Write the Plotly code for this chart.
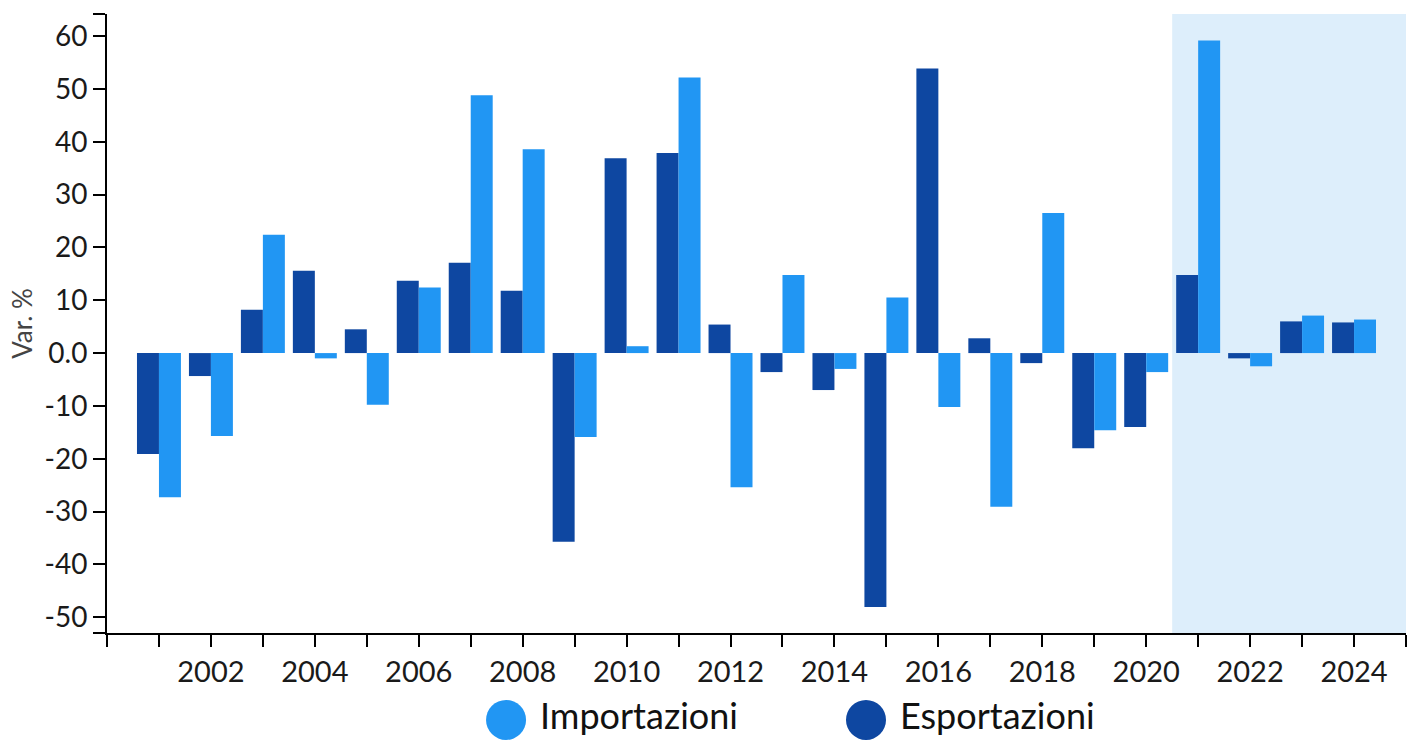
import plotly.graph_objects as go

years = list(range(2001, 2025))
esportazioni = [-19.1, -4.35, 8.2, 15.6, 4.5, 13.7, 17.1, 11.8, -35.7, 36.9, 37.9, 5.4,
                -3.6, -7.0, -48.1, 53.9, 2.8, -1.9, -18.0, -14.0, 14.8, -1.0, 6.0, 5.8]
importazioni = [-27.3, -15.7, 22.4, -1.0, -9.8, 12.4, 48.8, 38.6, -15.9, 1.3, 52.2, -25.4,
                14.8, -3.0, 10.5, -10.2, -29.1, 26.5, -14.6, -3.6, 59.2, -2.5, 7.1, 6.35]

x_tickvals = list(range(2000, 2026))
x_ticktext = [str(y) if (y % 2 == 0 and 2002 <= y <= 2024) else "" for y in x_tickvals]

y_min, y_max = -53, 64.2
y_tickvals = [y_min, -50, -40, -30, -20, -10, 0, 10, 20, 30, 40, 50, 60, y_max]
y_ticktext = ["", "-50", "-40", "-30", "-20", "-10", "0.0", "10", "20", "30", "40", "50", "60", ""]

forecast_start = 2020.5
forecast_end = 2025

DARK = "#0E47A1"
LIGHT = "#2196F3"
FONT = "Lato"

fig = go.Figure()
fig.add_trace(go.Bar(x=years, y=esportazioni, name="Esportazioni", marker_color=DARK,
                     marker_line_width=0, showlegend=False))
fig.add_trace(go.Bar(x=years, y=importazioni, name="Importazioni", marker_color=LIGHT,
                     marker_line_width=0, showlegend=False))

fig.add_shape(type="rect", xref="x", yref="paper", x0=forecast_start, x1=forecast_end,
              y0=0, y1=1, fillcolor="#DDEEFB", line_width=0, layer="below")

# custom legend (circles + labels)
legend_y = -0.1405
legend_items = [("Importazioni", LIGHT, 0.3072, 0.3318), ("Esportazioni", DARK, 0.5843, 0.6089)]
for name, color, cx, tx in legend_items:
    fig.add_shape(type="circle", xref="paper", yref="paper", xsizemode="pixel", ysizemode="pixel",
                  xanchor=cx, yanchor=legend_y, x0=-20, x1=20, y0=-20, y1=20,
                  fillcolor=color, line_width=0)
    fig.add_annotation(xref="paper", yref="paper", x=tx, y=legend_y + 0.008, text=name, showarrow=False,
                       xanchor="left", yanchor="middle", font=dict(family=FONT, size=36, color="#111"))

fig.update_layout(
    width=1410, height=741,
    margin=dict(l=107, r=4, t=14, b=108),
    paper_bgcolor="white", plot_bgcolor="white",
    barmode="group", bargap=0.154, bargroupgap=0,
    font=dict(family=FONT, size=28, color="#1a1a1a"),
    showlegend=False,
    xaxis=dict(range=[2000, 2025], tickmode="array", tickvals=x_tickvals, ticktext=x_ticktext,
               showgrid=False, zeroline=False, showline=True, linecolor="black", linewidth=2,
               ticks="outside", ticklen=12, tickwidth=2, tickcolor="black", automargin=False,
               tickfont=dict(family=FONT, size=29, color="#1a1a1a")),
    yaxis=dict(range=[y_min, y_max], tickmode="array", tickvals=y_tickvals, ticktext=y_ticktext,
               showgrid=False, zeroline=False, showline=True, linecolor="black", linewidth=2,
               ticks="outside", ticklen=12, tickwidth=2, tickcolor="black", automargin=False,
               tickfont=dict(family=FONT, size=28, color="#1a1a1a"),
               title=dict(text="Var. %", font=dict(family=FONT, size=26, color="#444"), standoff=4)),
)

fig.write_html("out.html", config={"displayModeBar": False},
               post_script="document.body.style.margin='0';document.body.style.overflow='hidden';")
